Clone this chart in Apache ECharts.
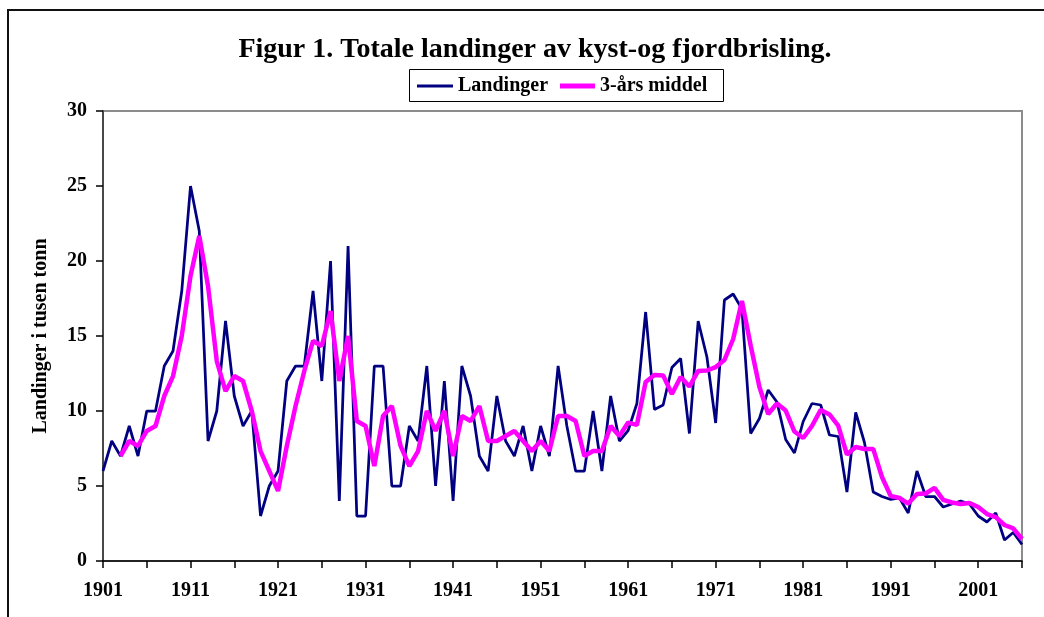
<!DOCTYPE html>
<html>
<head>
<meta charset="utf-8">
<title>Figur 1</title>
<script src="https://cdn.jsdelivr.net/npm/echarts@6/dist/echarts.min.js"></script>
<style>
  html, body { margin: 0; padding: 0; background: #fff; }
  #chart { width: 1044px; height: 617px; }
</style>
</head>
<body>
<div id="chart"></div>
<script>
// years 1901-2006
const years = [];
for (let y = 1901; y <= 2006; y++) years.push(String(y));

// Landinger (1000 tonn)
const landinger = [
  6, 8, 7, 9, 7, 10, 10, 13, 14, 18,
  25, 22, 8, 10, 16, 11, 9, 10, 3, 5,
  6, 12, 13, 13, 18, 12, 20, 4, 21, 3,
  3, 13, 13, 5, 5, 9, 8, 13, 5, 12,
  4, 13, 11, 7, 6, 11, 8, 7, 9, 6,
  9, 7, 13, 9, 6, 6, 10, 6, 11, 8,
  8.7, 10.5, 16.6, 10.1, 10.4, 12.9, 13.5, 8.5, 16, 13.6,
  9.2, 17.4, 17.8, 16.8, 8.5, 9.5, 11.4, 10.6, 8.1, 7.2,
  9.3, 10.5, 10.4, 8.4, 8.3, 4.6, 9.9, 7.9, 4.6, 4.3,
  4.1, 4.2, 3.2, 6.0, 4.3, 4.3, 3.6, 3.8, 4.0, 3.8,
  3.0, 2.6, 3.2, 1.4, 1.9, 1.1
];

// 3-års middel (starts 1903)
const middel = [
  null, null, 7.00, 8.00, 7.67, 8.67, 9.00, 11.00, 12.33, 15.00,
  19.00, 21.67, 18.33, 13.33, 11.33, 12.33, 12.00, 10.00, 7.33, 6.00,
  4.67, 7.67, 10.33, 12.67, 14.67, 14.33, 16.67, 12.00, 15.00, 9.33,
  9.00, 6.33, 9.67, 10.33, 7.67, 6.33, 7.33, 10.00, 8.67, 10.00,
  7.00, 9.67, 9.33, 10.33, 8.00, 8.00, 8.33, 8.67, 8.00, 7.33,
  8.00, 7.33, 9.67, 9.67, 9.33, 7.00, 7.33, 7.33, 9.00, 8.33,
  9.23, 9.07, 11.93, 12.40, 12.37, 11.13, 12.27, 11.63, 12.67, 12.70,
  12.93, 13.40, 14.80, 17.33, 14.37, 11.60, 9.80, 10.50, 10.03, 8.63,
  8.20, 9.00, 10.07, 9.77, 9.03, 7.10, 7.60, 7.47, 7.47, 5.60,
  4.33, 4.20, 3.83, 4.47, 4.50, 4.87, 4.07, 3.90, 3.80, 3.87,
  3.60, 3.13, 2.93, 2.40, 2.17, 1.47
];

const FONT = "'Liberation Serif', 'Times New Roman', serif";
const legendText = { fontFamily: FONT, fontWeight: 'bold', fontSize: 20, color: '#000' };

const chart = echarts.init(document.getElementById('chart'), null, { renderer: 'canvas' });

chart.setOption({
  animation: false,
  textStyle: { fontFamily: FONT },
  title: {
    text: 'Figur 1. Totale landinger av kyst-og fjordbrisling.',
    left: 535,
    textAlign: 'center',
    top: 36,
    padding: 0,
    textStyle: { fontFamily: FONT, fontWeight: 'bold', fontSize: 28, color: '#000' }
  },
  // two legends so each line sample gets its own thickness; box drawn below
  legend: [
    {
      left: 417, top: 76,
      itemWidth: 36, itemHeight: 3,
      padding: 0,
      textStyle: legendText,
      data: [{ name: 'Landinger', icon: 'rect' }]
    },
    {
      left: 560, top: 76,
      itemWidth: 35, itemHeight: 5,
      padding: 0,
      textStyle: legendText,
      data: [{ name: '3-års middel', icon: 'rect' }]
    }
  ],
  graphic: [
    {
      type: 'rect',
      shape: { x: 8, y: 10, width: 1100, height: 700 },
      style: { fill: 'none', stroke: '#111', lineWidth: 2 },
      silent: true
    },
    {
      type: 'rect',
      shape: { x: 409.5, y: 69.5, width: 314, height: 32 },
      style: { fill: 'none', stroke: '#000', lineWidth: 1 },
      silent: true
    }
  ],
  grid: {
    left: 103, right: 22, top: 111, bottom: 56,
    show: true,
    borderColor: '#8c8c8c',
    borderWidth: 2
  },
  xAxis: {
    type: 'category',
    data: years,
    boundaryGap: false,
    axisLine: { lineStyle: { color: '#000', width: 1.5 } },
    axisTick: {
      length: 7,
      interval: (i) => i % 5 === 0,
      lineStyle: { color: '#000', width: 1.5 }
    },
    axisLabel: {
      interval: (i) => i % 10 === 0,
      margin: 20,
      fontFamily: FONT, fontWeight: 'bold', fontSize: 20, color: '#000'
    },
    splitLine: { show: false }
  },
  yAxis: {
    type: 'value',
    min: 0, max: 30, interval: 5,
    name: 'Landinger i tusen tonn',
    nameLocation: 'middle',
    nameRotate: 90,
    nameGap: 52,
    nameTextStyle: { fontFamily: FONT, fontWeight: 'bold', fontSize: 20, color: '#000' },
    axisLine: { show: true, lineStyle: { color: '#333', width: 1.5 } },
    axisTick: { show: true, length: 7, lineStyle: { color: '#000', width: 1.5 } },
    axisLabel: { margin: 16, fontFamily: FONT, fontWeight: 'bold', fontSize: 20, color: '#000' },
    splitLine: { show: false }
  },
  series: [
    {
      name: 'Landinger',
      type: 'line',
      data: landinger,
      symbol: 'none',
      lineStyle: { color: '#000080', width: 2.75 },
      itemStyle: { color: '#000080' }
    },
    {
      name: '3-års middel',
      type: 'line',
      data: middel,
      symbol: 'none',
      connectNulls: false,
      lineStyle: { color: '#ff00ff', width: 4.5 },
      itemStyle: { color: '#ff00ff' }
    }
  ]
});
</script>
</body>
</html>
